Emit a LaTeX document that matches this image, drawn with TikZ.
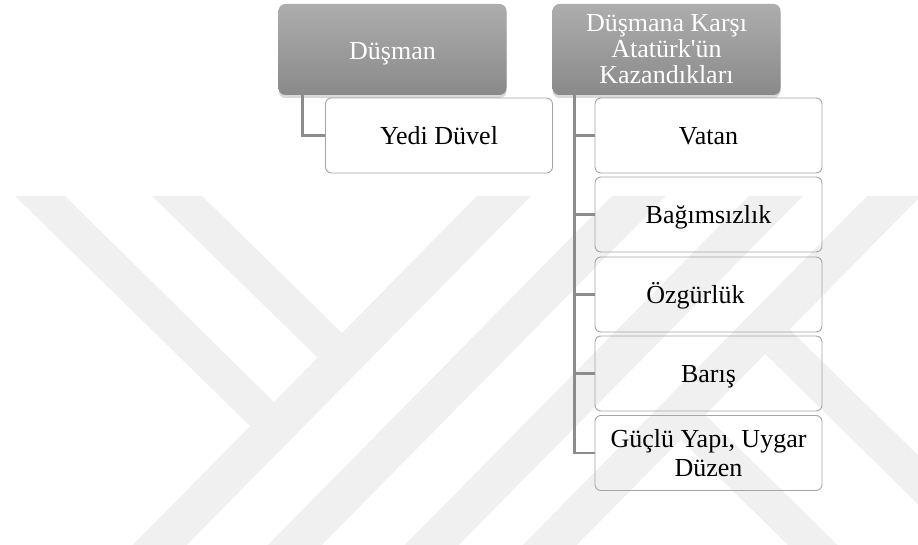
\documentclass[tikz,border=0pt]{standalone}
\usepackage{fontspec}
\setmainfont{Liberation Serif}
\usetikzlibrary{shadows}
\definecolor{wmark}{RGB}{240,240,240}
\definecolor{linegray}{RGB}{140,140,140}
\definecolor{edgegray}{RGB}{165,165,165}
\tikzset{
  head/.style={rounded corners=7pt, minimum width=228pt, minimum height=91pt, inner sep=0pt,
    top color=black!32, bottom color=black!46, text=white, align=center,
    font=\fontsize{26}{26}\selectfont,
    drop shadow={opacity=0.3, shadow xshift=0pt, shadow yshift=-3pt}},
  headline/.style={head, text height=24pt, text depth=3pt},
  kid/.style={draw=edgegray, line width=0.9pt, rounded corners=6pt, minimum width=227pt,
    minimum height=75pt, inner sep=0pt, align=center, font=\fontsize{26}{29}\selectfont},
  kidline/.style={kid, text height=22pt, text depth=4pt},
  conn/.style={draw=linegray, line width=2.4pt},
  band/.style={fill=wmark}
}

\begin{document}
\begin{tikzpicture}[x=1pt, y=-1pt]
		%%%%% START %%%%%
		\useasboundingbox (0,0) rectangle (918,545);
		\clip (0,0) rectangle (918,545);
		
		% watermark
		\foreach \b in {118,253,390,508}
			\fill[band] (\b,560) -- (\b+54,560) -- (\b+54+359,196) -- (\b+359,196) -- cycle;
		\fill[band] (15,196) -- (65,196) -- (275,403) -- (250,426) -- cycle;
		\fill[band] (152,196) -- (202,196) -- (345,336) -- (320,360) -- cycle;
		\fill[band] (754,343) -- (779,319) -- (930,467) -- (930,516) -- cycle;
		\fill[band] (670,429) -- (695,405) -- (853,560) -- (803,560) -- cycle;
		
		% left branch
		\node[kidline] (yedi) at (439,135.5) {Yedi Düvel};
		
		% right branch
		\node[kidline] (vatan) at (708.5,135.5) {Vatan};
		\node[kidline] (bagimsiz) at (708.5,214.5) {Bağımsızlık};
		\node[kidline] (ozgur) at (708.5,294.5) {Özgürlük\hspace*{26pt}};
		\node[kidline] (baris) at (708.5,373.5) {Barış};
		\node[kid] (guclu) at (708.5,453) {Güçlü Yapı, Uygar\\Düzen};
		
		% headers
		\node[headline] (dusman) at (392.5,49.5) {Düşman};
		\node[head] (kazan) at (666.5,49.5) {Düşmana Karşı\\Atatürk\textquotesingle ün\\Kazandıkları};
		
		\draw[conn] ([xshift=24pt]dusman.south west) |- (yedi.west);
		\foreach \c in {vatan,bagimsiz,ozgur,baris,guclu}
			\draw[conn] ([xshift=22pt]kazan.south west) |- (\c.west);
		%%%%% END %%%%%
\end{tikzpicture}
\end{document}
